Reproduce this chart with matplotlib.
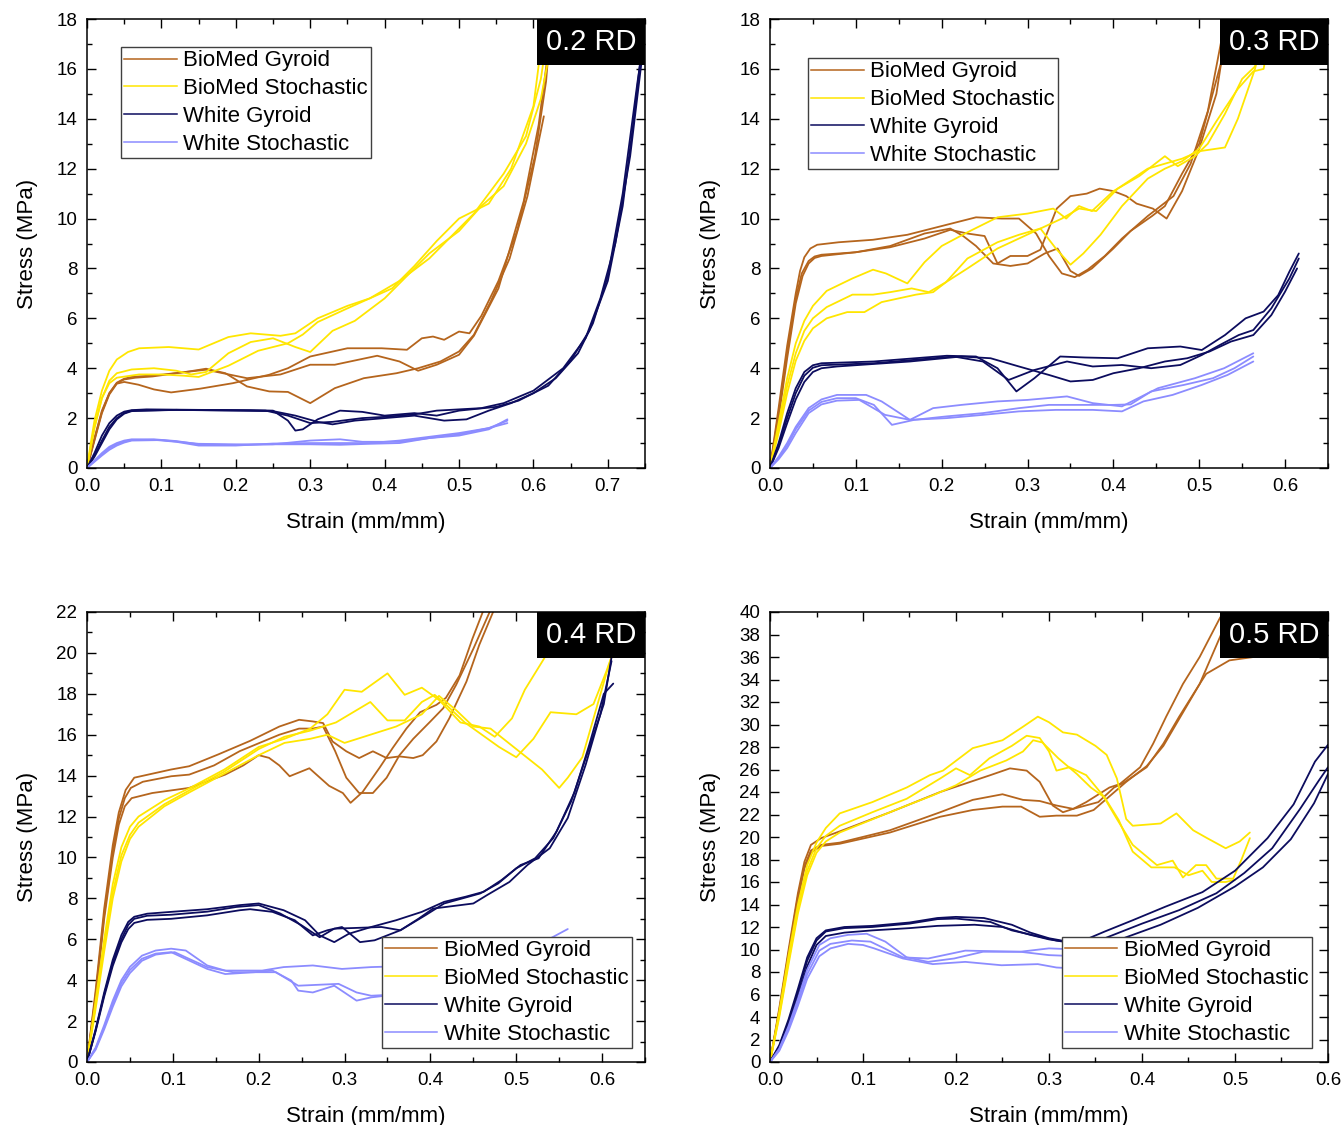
import numpy as np
import matplotlib
matplotlib.use("Agg")
import matplotlib.pyplot as plt
from matplotlib.lines import Line2D
from matplotlib.patches import Rectangle
from matplotlib.ticker import MultipleLocator, FormatStrFormatter

plt.rcParams['font.family'] = ['Liberation Sans', 'DejaVu Sans']

# ---- colours / labels
labels = ['BioMed Gyroid', 'BioMed Stochastic', 'White Gyroid', 'White Stochastic']
colors = ['#B5651D', '#FFE600', '#0C0C5E', '#8C8CFF']

# ---- 0.2 RD  (strain, stress) points
rd02_bg = [
    [[0,0],[0.01,1.2],[0.02,2.3],[0.03,3.0],[0.04,3.42],[0.05,3.58],[0.06,3.65],[0.10,3.74],[0.16,3.94],[0.215,3.6],[0.26,3.75],[0.30,4.14],[0.333,4.14],[0.39,4.5],[0.42,4.27],[0.445,3.9],[0.47,4.14],[0.50,4.54],[0.52,5.3],[0.553,7.2],[0.587,10.7],[0.607,13.75],[0.619,16.5],[0.624,18]],
    [[0,0],[0.01,1.1],[0.02,2.2],[0.03,2.95],[0.04,3.38],[0.05,3.45],[0.069,3.34],[0.09,3.15],[0.113,3.03],[0.152,3.18],[0.196,3.4],[0.245,3.74],[0.27,4.0],[0.30,4.47],[0.35,4.8],[0.396,4.8],[0.43,4.74],[0.45,5.2],[0.465,5.27],[0.48,5.14],[0.50,5.47],[0.514,5.4],[0.53,6.1],[0.553,7.5],[0.578,9.5],[0.602,12.5],[0.617,15.5],[0.624,18]],
    [[0,0],[0.01,1.15],[0.02,2.25],[0.03,3.0],[0.04,3.4],[0.05,3.55],[0.065,3.62],[0.088,3.67],[0.137,3.87],[0.16,3.98],[0.186,3.8],[0.215,3.27],[0.245,3.07],[0.27,3.05],[0.30,2.6],[0.333,3.2],[0.372,3.6],[0.416,3.8],[0.445,4.0],[0.475,4.27],[0.50,4.67],[0.52,5.34],[0.543,6.7],[0.568,8.4],[0.592,10.9],[0.614,14.1]],
]
rd02_bs = [
    [[0,0],[0.005,1.0],[0.01,1.9],[0.02,3.1],[0.03,3.9],[0.04,4.35],[0.055,4.65],[0.07,4.8],[0.11,4.85],[0.15,4.75],[0.19,5.25],[0.22,5.4],[0.26,5.3],[0.28,5.4],[0.31,6.0],[0.35,6.5],[0.38,6.8],[0.42,7.5],[0.46,8.4],[0.49,9.3],[0.52,10.2],[0.56,11.8],[0.59,13.3],[0.61,15.6],[0.622,18]],
    [[0,0],[0.005,0.8],[0.01,1.6],[0.02,2.8],[0.03,3.5],[0.04,3.8],[0.06,3.95],[0.09,4.0],[0.12,3.9],[0.14,3.75],[0.16,3.85],[0.19,4.6],[0.22,5.05],[0.25,5.2],[0.28,4.85],[0.30,4.65],[0.33,5.5],[0.36,5.9],[0.40,6.8],[0.43,7.7],[0.46,8.6],[0.50,9.5],[0.53,10.5],[0.56,11.3],[0.59,13.0],[0.61,14.8],[0.63,18]],
    [[0,0],[0.005,0.85],[0.01,1.65],[0.02,2.8],[0.03,3.4],[0.04,3.62],[0.07,3.75],[0.10,3.75],[0.13,3.7],[0.15,3.65],[0.19,4.1],[0.23,4.7],[0.27,5.0],[0.29,5.35],[0.31,5.85],[0.35,6.4],[0.38,6.8],[0.41,7.2],[0.44,8.1],[0.47,9.1],[0.50,10.0],[0.54,10.6],[0.57,12.0],[0.60,14.5],[0.615,18]],
]
rd02_wg = [
    [[0,0],[0.01,0.6],[0.02,1.3],[0.03,1.8],[0.04,2.1],[0.05,2.26],[0.06,2.32],[0.08,2.35],[0.15,2.33],[0.22,2.32],[0.25,2.3],[0.27,1.9],[0.28,1.5],[0.29,1.55],[0.31,1.95],[0.34,2.3],[0.37,2.25],[0.40,2.1],[0.44,2.2],[0.47,2.1],[0.50,2.3],[0.55,2.45],[0.58,2.7],[0.62,3.3],[0.65,4.3],[0.675,5.5],[0.70,7.5],[0.72,10.5],[0.735,14.0],[0.745,16.7]],
    [[0,0],[0.01,0.5],[0.02,1.1],[0.03,1.65],[0.04,2.0],[0.05,2.2],[0.06,2.3],[0.12,2.33],[0.2,2.3],[0.25,2.28],[0.28,2.1],[0.31,1.85],[0.33,1.75],[0.36,1.9],[0.40,2.0],[0.44,2.1],[0.48,1.9],[0.51,1.95],[0.54,2.3],[0.57,2.6],[0.60,3.0],[0.63,3.6],[0.66,4.6],[0.68,5.8],[0.70,7.7],[0.72,11.0],[0.74,15.5],[0.745,16.5]],
    [[0,0],[0.01,0.45],[0.02,1.0],[0.03,1.55],[0.04,1.95],[0.05,2.18],[0.06,2.28],[0.12,2.33],[0.24,2.3],[0.27,2.1],[0.30,1.8],[0.33,1.85],[0.37,2.0],[0.40,2.05],[0.44,2.15],[0.47,2.3],[0.50,2.35],[0.53,2.4],[0.56,2.6],[0.60,3.1],[0.64,4.0],[0.67,5.2],[0.69,6.8],[0.71,9.0],[0.73,12.5],[0.745,16.2]],
]
rd02_ws = [
    [[0,0],[0.01,0.3],[0.02,0.6],[0.03,0.85],[0.04,1.0],[0.05,1.1],[0.06,1.15],[0.09,1.15],[0.12,1.08],[0.15,0.95],[0.2,0.92],[0.25,0.95],[0.3,1.1],[0.34,1.15],[0.37,1.05],[0.42,1.05],[0.46,1.2],[0.5,1.35],[0.54,1.6],[0.565,1.9]],
    [[0,0],[0.01,0.28],[0.02,0.55],[0.03,0.8],[0.04,0.95],[0.05,1.06],[0.06,1.12],[0.09,1.13],[0.12,1.05],[0.15,0.9],[0.2,0.9],[0.25,0.98],[0.3,1.0],[0.34,1.0],[0.38,1.0],[0.42,1.1],[0.46,1.25],[0.5,1.4],[0.54,1.6],[0.565,1.8]],
    [[0,0],[0.01,0.25],[0.02,0.5],[0.03,0.73],[0.04,0.9],[0.05,1.02],[0.06,1.1],[0.1,1.12],[0.15,0.97],[0.2,0.95],[0.25,0.95],[0.3,0.95],[0.34,0.93],[0.38,0.97],[0.42,1.0],[0.46,1.2],[0.5,1.3],[0.54,1.55],[0.565,1.95]],
]

# ---- 0.3 RD
rd03_bg = [
    [[0,0],[0.01,2.4],[0.02,4.9],[0.03,7.0],[0.035,7.9],[0.04,8.45],[0.047,8.8],[0.055,8.95],[0.08,9.05],[0.12,9.15],[0.16,9.35],[0.20,9.7],[0.24,10.05],[0.27,10.0],[0.29,10.0],[0.31,9.4],[0.325,8.5],[0.34,7.8],[0.355,7.65],[0.37,7.95],[0.39,8.5],[0.41,9.2],[0.44,10.1],[0.47,10.9],[0.49,12.2],[0.51,14.3],[0.53,17.9]],
    [[0,0],[0.01,2.2],[0.02,4.6],[0.03,6.8],[0.037,7.8],[0.045,8.3],[0.052,8.48],[0.06,8.55],[0.10,8.65],[0.14,8.85],[0.18,9.2],[0.21,9.55],[0.23,9.4],[0.25,9.3],[0.265,8.2],[0.28,8.5],[0.30,8.5],[0.315,8.75],[0.334,10.4],[0.35,10.9],[0.369,11.0],[0.384,11.2],[0.40,11.1],[0.415,10.9],[0.427,10.6],[0.446,10.4],[0.462,10.0],[0.48,11.1],[0.50,12.8],[0.52,15.0],[0.533,17.9]],
    [[0,0],[0.01,2.0],[0.02,4.4],[0.03,6.6],[0.038,7.7],[0.045,8.2],[0.052,8.42],[0.06,8.5],[0.10,8.65],[0.14,8.9],[0.18,9.4],[0.21,9.6],[0.225,9.3],[0.24,8.9],[0.26,8.2],[0.28,8.1],[0.30,8.2],[0.32,8.6],[0.335,8.8],[0.35,7.9],[0.36,7.7],[0.375,8.0],[0.40,8.8],[0.42,9.5],[0.445,10.1],[0.46,10.5],[0.48,11.8],[0.50,13.0],[0.525,16.2],[0.535,17.9]],
]
rd03_bs = [
    [[0,0],[0.01,1.8],[0.02,3.6],[0.03,5.0],[0.04,5.9],[0.05,6.5],[0.066,7.1],[0.096,7.6],[0.12,7.95],[0.135,7.8],[0.16,7.4],[0.18,8.25],[0.20,8.9],[0.23,9.45],[0.265,10.05],[0.30,10.2],[0.33,10.4],[0.345,10.0],[0.36,10.5],[0.375,10.3],[0.40,11.1],[0.43,11.7],[0.46,12.5],[0.475,12.1],[0.495,12.5],[0.51,13.0],[0.53,14.2],[0.55,15.6],[0.565,16.1],[0.575,17.9]],
    [[0,0],[0.01,1.6],[0.02,3.3],[0.03,4.6],[0.04,5.5],[0.05,6.0],[0.066,6.45],[0.096,6.95],[0.12,6.95],[0.14,7.05],[0.165,7.2],[0.185,7.05],[0.205,7.45],[0.23,8.4],[0.265,9.05],[0.29,9.35],[0.315,9.6],[0.333,8.8],[0.35,8.15],[0.365,8.6],[0.385,9.35],[0.41,10.5],[0.44,11.6],[0.46,12.0],[0.48,12.3],[0.50,12.8],[0.52,13.9],[0.545,15.2],[0.563,15.9],[0.575,16.0],[0.585,17.9]],
    [[0,0],[0.01,1.4],[0.02,3.0],[0.03,4.3],[0.04,5.1],[0.05,5.6],[0.066,6.0],[0.09,6.25],[0.11,6.25],[0.13,6.65],[0.15,6.8],[0.17,6.95],[0.19,7.05],[0.205,7.45],[0.23,8.0],[0.265,8.8],[0.29,9.2],[0.315,9.6],[0.34,10.0],[0.36,10.4],[0.38,10.3],[0.405,11.2],[0.44,12.0],[0.48,12.4],[0.50,12.7],[0.53,12.85],[0.545,14.0],[0.565,16.0],[0.578,17.9]],
]
rd03_wg = [
    [[0,0],[0.01,1.0],[0.02,2.2],[0.03,3.2],[0.04,3.85],[0.05,4.12],[0.06,4.2],[0.121,4.27],[0.206,4.5],[0.24,4.47],[0.265,4.0],[0.287,3.07],[0.308,3.6],[0.338,4.47],[0.367,4.43],[0.405,4.4],[0.44,4.8],[0.478,4.87],[0.503,4.73],[0.53,5.33],[0.554,6.0],[0.575,6.27],[0.592,6.93],[0.605,7.87],[0.616,8.6]],
    [[0,0],[0.01,0.9],[0.02,2.0],[0.03,3.0],[0.04,3.7],[0.05,4.02],[0.06,4.12],[0.121,4.2],[0.214,4.47],[0.248,4.27],[0.278,3.53],[0.308,3.93],[0.346,4.27],[0.376,4.07],[0.41,4.13],[0.444,4.0],[0.478,4.13],[0.503,4.53],[0.524,4.93],[0.546,5.33],[0.563,5.53],[0.584,6.4],[0.605,7.6],[0.616,8.4]],
    [[0,0],[0.01,0.8],[0.02,1.8],[0.03,2.75],[0.04,3.45],[0.05,3.85],[0.06,4.0],[0.078,4.07],[0.163,4.27],[0.223,4.47],[0.257,4.4],[0.29,4.07],[0.325,3.73],[0.35,3.47],[0.376,3.53],[0.40,3.8],[0.43,4.0],[0.46,4.27],[0.486,4.4],[0.512,4.67],[0.537,5.07],[0.563,5.33],[0.584,6.13],[0.60,7.07],[0.614,8.0]],
]
rd03_ws = [
    [[0,0],[0.01,0.45],[0.02,1.0],[0.03,1.65],[0.045,2.4],[0.06,2.75],[0.078,2.93],[0.112,2.93],[0.13,2.67],[0.163,1.93],[0.19,2.4],[0.223,2.53],[0.265,2.67],[0.30,2.73],[0.346,2.87],[0.376,2.6],[0.41,2.47],[0.452,3.2],[0.495,3.6],[0.529,4.0],[0.563,4.6]],
    [[0,0],[0.01,0.4],[0.02,0.9],[0.03,1.55],[0.045,2.3],[0.06,2.65],[0.078,2.8],[0.10,2.8],[0.121,2.53],[0.142,1.73],[0.168,1.93],[0.206,2.07],[0.248,2.2],[0.29,2.4],[0.325,2.53],[0.40,2.53],[0.42,2.55],[0.444,3.07],[0.482,3.33],[0.516,3.6],[0.541,4.0],[0.563,4.47]],
    [[0,0],[0.01,0.35],[0.02,0.8],[0.03,1.4],[0.045,2.2],[0.06,2.55],[0.078,2.7],[0.104,2.73],[0.134,2.13],[0.163,1.93],[0.206,2.0],[0.248,2.13],[0.29,2.27],[0.333,2.33],[0.376,2.33],[0.41,2.27],[0.435,2.67],[0.469,2.93],[0.503,3.33],[0.533,3.73],[0.563,4.27]],
]

# ---- 0.4 RD
rd04_bg = [
    [[0,0],[0.01,3.5],[0.02,7.5],[0.03,10.6],[0.037,12.2],[0.045,13.3],[0.055,13.9],[0.098,14.3],[0.119,14.46],[0.153,15.04],[0.19,15.7],[0.224,16.4],[0.247,16.73],[0.263,16.65],[0.275,16.57],[0.286,15.67],[0.302,15.19],[0.317,14.86],[0.333,15.19],[0.349,14.86],[0.364,14.94],[0.38,14.86],[0.391,15.0],[0.407,15.67],[0.422,16.8],[0.442,18.6],[0.457,20.4],[0.473,22]],
    [[0,0],[0.01,3.3],[0.02,7.2],[0.03,10.3],[0.037,11.9],[0.044,12.9],[0.051,13.4],[0.065,13.7],[0.098,13.97],[0.119,14.05],[0.148,14.5],[0.178,15.2],[0.224,16.0],[0.247,16.3],[0.263,16.3],[0.275,16.4],[0.289,15.2],[0.302,13.9],[0.317,13.15],[0.333,13.15],[0.349,13.9],[0.364,15.0],[0.38,15.8],[0.40,16.65],[0.415,17.3],[0.43,18.44],[0.45,20.2],[0.469,22]],
    [[0,0],[0.01,3.1],[0.02,7.0],[0.03,10.0],[0.037,11.6],[0.044,12.5],[0.052,12.9],[0.076,13.15],[0.119,13.4],[0.161,14.05],[0.182,14.5],[0.20,15.0],[0.212,14.87],[0.224,14.5],[0.236,13.97],[0.259,14.36],[0.282,13.5],[0.298,13.15],[0.307,12.67],[0.321,13.2],[0.341,14.4],[0.356,15.35],[0.372,16.3],[0.388,17.1],[0.407,17.46],[0.418,17.8],[0.434,18.9],[0.449,20.7],[0.461,22]],
]
rd04_bs = [
    [[0,0],[0.01,3.0],[0.02,6.0],[0.03,8.7],[0.04,10.5],[0.05,11.5],[0.06,12.0],[0.09,12.8],[0.12,13.4],[0.16,14.3],[0.20,15.4],[0.23,15.8],[0.26,16.3],[0.28,17.0],[0.30,18.2],[0.32,18.1],[0.35,19.0],[0.37,17.95],[0.39,18.3],[0.41,17.7],[0.435,16.6],[0.457,16.4],[0.475,15.9],[0.495,16.8],[0.51,18.2],[0.535,19.9],[0.55,22.0]],
    [[0,0],[0.01,2.8],[0.02,5.7],[0.03,8.3],[0.04,10.1],[0.05,11.1],[0.06,11.7],[0.09,12.6],[0.12,13.3],[0.16,14.2],[0.20,15.3],[0.23,15.9],[0.26,16.2],[0.29,16.6],[0.33,17.6],[0.35,16.7],[0.37,16.7],[0.39,17.6],[0.405,17.95],[0.42,17.4],[0.44,16.6],[0.46,16.0],[0.48,15.4],[0.50,14.9],[0.52,15.8],[0.54,17.1],[0.57,17.0],[0.59,17.5],[0.605,19.1],[0.615,20.3]],
    [[0,0],[0.01,2.6],[0.02,5.4],[0.03,8.0],[0.04,9.8],[0.05,10.9],[0.06,11.5],[0.09,12.5],[0.12,13.2],[0.16,14.1],[0.20,15.0],[0.23,15.6],[0.26,15.8],[0.28,16.0],[0.30,15.6],[0.33,16.0],[0.36,16.4],[0.39,17.0],[0.41,17.9],[0.43,17.2],[0.45,16.4],[0.47,16.3],[0.50,15.3],[0.53,14.3],[0.55,13.4],[0.56,13.9],[0.577,14.9],[0.59,16.8],[0.605,19.0],[0.615,20.3]],
]
rd04_wg = [
    [[0,0],[0.01,1.6],[0.02,3.4],[0.03,5.0],[0.04,6.2],[0.048,6.85],[0.055,7.1],[0.07,7.25],[0.098,7.34],[0.14,7.47],[0.178,7.67],[0.20,7.75],[0.229,7.42],[0.254,6.93],[0.271,6.19],[0.288,5.86],[0.305,6.27],[0.331,6.6],[0.36,6.93],[0.39,7.34],[0.416,7.83],[0.441,8.08],[0.462,8.32],[0.483,8.9],[0.505,9.63],[0.526,9.96],[0.547,11.27],[0.568,13.2],[0.585,15.5],[0.602,18.0],[0.613,18.5]],
    [[0,0],[0.01,1.5],[0.02,3.2],[0.03,4.7],[0.04,5.85],[0.048,6.5],[0.055,6.8],[0.07,6.95],[0.098,7.0],[0.14,7.17],[0.178,7.42],[0.19,7.47],[0.216,7.34],[0.242,6.93],[0.263,6.19],[0.28,6.44],[0.297,6.6],[0.318,5.86],[0.335,5.95],[0.365,6.44],[0.394,7.17],[0.416,7.75],[0.458,8.24],[0.479,8.73],[0.50,9.47],[0.522,9.96],[0.543,10.94],[0.564,12.74],[0.585,15.36],[0.602,17.5],[0.611,19.8]],
    [[0,0],[0.01,1.55],[0.02,3.3],[0.03,4.85],[0.04,6.0],[0.048,6.7],[0.055,7.0],[0.07,7.15],[0.098,7.2],[0.14,7.35],[0.174,7.58],[0.20,7.67],[0.225,7.26],[0.25,6.68],[0.271,6.1],[0.288,6.52],[0.31,6.55],[0.343,6.6],[0.365,6.44],[0.386,7.0],[0.403,7.5],[0.45,7.75],[0.466,8.16],[0.492,8.8],[0.513,9.63],[0.539,10.45],[0.56,11.93],[0.581,14.55],[0.598,17.0],[0.611,19.6]],
]
rd04_ws = [
    [[0,0],[0.01,0.7],[0.02,1.8],[0.03,3.0],[0.04,4.0],[0.05,4.65],[0.064,5.2],[0.08,5.45],[0.098,5.54],[0.115,5.45],[0.14,4.72],[0.161,4.47],[0.204,4.47],[0.229,4.64],[0.263,4.72],[0.297,4.55],[0.331,4.64],[0.38,4.7],[0.45,5.0],[0.52,5.6],[0.56,6.5]],
    [[0,0],[0.01,0.65],[0.02,1.7],[0.03,2.85],[0.04,3.85],[0.05,4.5],[0.064,5.05],[0.08,5.3],[0.098,5.37],[0.14,4.55],[0.161,4.3],[0.195,4.39],[0.216,4.47],[0.238,3.98],[0.246,3.49],[0.263,3.4],[0.288,3.73],[0.314,3.0],[0.331,3.16],[0.36,3.3]],
    [[0,0],[0.01,0.6],[0.02,1.6],[0.03,2.7],[0.04,3.7],[0.05,4.35],[0.064,4.95],[0.08,5.25],[0.102,5.37],[0.119,5.04],[0.14,4.64],[0.17,4.39],[0.22,4.39],[0.246,3.73],[0.293,3.82],[0.314,3.4],[0.331,3.24],[0.36,3.3]],
]

# ---- 0.5 RD
rd05_bg = [
    [[0,0],[0.01,4.8],[0.02,10.0],[0.03,15.0],[0.037,17.8],[0.044,19.3],[0.055,19.9],[0.075,20.5],[0.129,22.2],[0.183,24.0],[0.237,25.5],[0.258,26.1],[0.276,25.9],[0.29,24.9],[0.304,22.8],[0.315,22.2],[0.326,22.5],[0.34,23.1],[0.365,24.4],[0.376,24.7],[0.398,26.2],[0.412,28.3],[0.426,30.7],[0.444,33.6],[0.462,36.0],[0.484,39.5],[0.488,40]],
    [[0,0],[0.01,4.6],[0.02,9.7],[0.03,14.7],[0.037,17.4],[0.044,18.8],[0.055,19.3],[0.075,19.5],[0.129,20.6],[0.183,22.2],[0.218,23.3],[0.25,23.8],[0.272,23.3],[0.29,23.2],[0.308,22.8],[0.326,22.5],[0.353,23.1],[0.37,24.4],[0.38,24.8],[0.405,26.2],[0.423,28.3],[0.44,30.7],[0.462,33.6],[0.484,37.8],[0.495,40]],
    [[0,0],[0.01,4.4],[0.02,9.4],[0.03,14.4],[0.037,17.2],[0.044,18.6],[0.055,19.2],[0.075,19.4],[0.129,20.4],[0.183,21.8],[0.218,22.4],[0.25,22.7],[0.27,22.7],[0.29,21.8],[0.308,21.9],[0.33,21.9],[0.348,22.4],[0.362,23.4],[0.383,24.9],[0.405,26.3],[0.423,28.1],[0.44,30.5],[0.462,33.6],[0.469,34.5],[0.494,35.7],[0.52,36.0],[0.56,36.5]],
]
rd05_bs = [
    [[0,0],[0.01,4.5],[0.02,9.5],[0.03,14.0],[0.04,17.5],[0.05,19.5],[0.06,20.8],[0.075,22.1],[0.11,23.1],[0.147,24.4],[0.172,25.5],[0.186,25.9],[0.218,27.9],[0.25,28.6],[0.272,29.8],[0.288,30.7],[0.30,30.2],[0.315,29.3],[0.33,29.1],[0.35,28.1],[0.362,27.3],[0.373,25.2],[0.383,21.6],[0.39,21.0],[0.42,21.2],[0.437,22.1],[0.455,20.6],[0.47,19.9],[0.49,19.0],[0.505,19.6],[0.516,20.4]],
    [[0,0],[0.01,4.2],[0.02,9.0],[0.03,13.5],[0.04,17.0],[0.05,19.0],[0.06,20.1],[0.075,21.0],[0.11,22.2],[0.147,23.4],[0.183,25.2],[0.20,26.1],[0.215,25.5],[0.236,27.0],[0.26,28.1],[0.276,29.0],[0.29,28.8],[0.30,27.6],[0.308,25.9],[0.322,26.2],[0.34,25.5],[0.358,23.7],[0.373,21.6],[0.39,19.3],[0.416,17.5],[0.433,17.9],[0.444,16.4],[0.458,17.5],[0.469,17.5],[0.48,16.3],[0.498,16.3],[0.507,18.0],[0.516,19.9]],
    [[0,0],[0.01,4.0],[0.02,8.7],[0.03,13.2],[0.04,16.6],[0.05,18.6],[0.06,19.6],[0.075,20.4],[0.111,21.6],[0.147,22.8],[0.175,23.7],[0.20,24.6],[0.226,25.9],[0.254,26.8],[0.272,27.6],[0.283,28.6],[0.293,28.4],[0.31,27.0],[0.33,25.6],[0.345,24.4],[0.36,23.5],[0.375,21.5],[0.39,18.7],[0.41,17.3],[0.435,17.3],[0.45,16.6],[0.465,17.0],[0.475,16.0],[0.49,16.0],[0.50,16.2]],
]
rd05_wg = [
    [[0,0],[0.01,1.5],[0.02,3.8],[0.03,6.5],[0.04,9.3],[0.05,11.0],[0.06,11.7],[0.08,12.0],[0.11,12.1],[0.15,12.4],[0.18,12.8],[0.20,12.9],[0.23,12.8],[0.26,12.2],[0.28,11.5],[0.30,11.0],[0.32,10.7],[0.34,10.9],[0.36,11.6],[0.39,12.6],[0.425,13.8],[0.465,15.1],[0.50,17.0],[0.535,19.9],[0.563,22.9],[0.586,26.7],[0.60,28.2]],
    [[0,0],[0.01,1.4],[0.02,3.6],[0.03,6.2],[0.04,9.0],[0.05,10.8],[0.06,11.6],[0.08,11.9],[0.11,12.0],[0.15,12.3],[0.18,12.7],[0.20,12.75],[0.237,12.45],[0.26,11.7],[0.292,11.1],[0.308,10.8],[0.33,10.6],[0.36,11.0],[0.40,12.3],[0.44,13.5],[0.48,15.0],[0.51,16.8],[0.54,19.0],[0.57,22.5],[0.59,25.0],[0.60,26.2]],
    [[0,0],[0.01,1.3],[0.02,3.3],[0.03,5.8],[0.04,8.5],[0.05,10.4],[0.06,11.2],[0.08,11.5],[0.11,11.7],[0.15,11.9],[0.18,12.1],[0.22,12.2],[0.25,12.0],[0.28,11.3],[0.30,10.9],[0.33,10.5],[0.36,10.6],[0.38,11.0],[0.42,12.2],[0.46,13.7],[0.50,15.6],[0.53,17.3],[0.56,19.8],[0.585,23.0],[0.60,25.6]],
]
rd05_ws = [
    [[0,0],[0.01,1.2],[0.02,3.2],[0.03,5.6],[0.04,8.2],[0.053,10.4],[0.065,11.0],[0.084,11.3],[0.104,11.4],[0.124,10.7],[0.147,9.3],[0.17,8.9],[0.198,9.2],[0.229,9.8],[0.269,9.8],[0.30,10.1],[0.33,10.0]],
    [[0,0],[0.01,1.1],[0.02,3.0],[0.03,5.3],[0.04,7.8],[0.053,9.9],[0.065,10.5],[0.088,10.8],[0.108,10.7],[0.143,9.3],[0.17,9.2],[0.21,9.9],[0.269,9.8],[0.30,9.5],[0.33,9.4]],
    [[0,0],[0.01,1.0],[0.02,2.8],[0.03,5.0],[0.04,7.4],[0.053,9.4],[0.065,10.1],[0.084,10.5],[0.10,10.4],[0.112,10.1],[0.143,9.2],[0.175,8.7],[0.21,8.9],[0.249,8.6],[0.288,8.7],[0.308,8.4],[0.33,8.3]],
]

# panel settings: title, groups, xmax, ymax, y minor, legend placement
panels = [
    ("0.2 RD", [rd02_bg, rd02_bs, rd02_wg, rd02_ws], 0.75, 18, 1, ('upper left', (0.061, 0.9376))),
    ("0.3 RD", [rd03_bg, rd03_bs, rd03_wg, rd03_ws], 0.65, 18, 1, ('upper left', (0.068, 0.913))),
    ("0.4 RD", [rd04_bg, rd04_bs, rd04_wg, rd04_ws], 0.65, 22, 1, ('lower right', (0.977, 0.031))),
    ("0.5 RD", [rd05_bg, rd05_bs, rd05_wg, rd05_ws], 0.60, 40, None, ('lower right', (0.971, 0.031))),
]

fig = plt.figure(figsize=(13.41, 11.25), dpi=100)
positions = [
    [0.0649, 0.584, 0.4161, 0.3991],
    [0.5742, 0.584, 0.4161, 0.3991],
    [0.0649, 0.056, 0.4161, 0.400],
    [0.5742, 0.056, 0.4161, 0.400],
]

for pos, (title, groups, xmax, ymax, yminor, (loc, anchor)) in zip(positions, panels):
    ax = fig.add_axes(pos)
    for color, reps in zip(colors, groups):
        for rep in reps:
            arr = np.array(rep)
            ax.plot(arr[:, 0], arr[:, 1], color=color, lw=1.3,
                    solid_joinstyle='round', solid_capstyle='round')

    ax.set_xlim(0, xmax)
    ax.set_ylim(0, ymax)
    ax.xaxis.set_major_locator(MultipleLocator(0.1))
    ax.xaxis.set_minor_locator(MultipleLocator(0.05))
    ax.xaxis.set_major_formatter(FormatStrFormatter('%.1f'))
    ax.yaxis.set_major_locator(MultipleLocator(2))
    if yminor:
        ax.yaxis.set_minor_locator(MultipleLocator(yminor))
    ax.tick_params(which='both', direction='in', top=True, right=True, width=1.0, labelsize=13.5)
    ax.tick_params(which='major', length=6.5)
    ax.tick_params(which='minor', length=3.6)
    ax.tick_params(axis='x', pad=7.5)
    ax.tick_params(axis='y', pad=7)
    for sp in ax.spines.values():
        sp.set_linewidth(1.1)

    ax.set_xlabel('Strain (mm/mm)', fontsize=16, labelpad=12)
    ax.set_ylabel('Stress (MPa)', fontsize=16, labelpad=13)

    handles = [Line2D([], [], color=c, lw=1.1) for c in colors]
    leg = ax.legend(handles, labels, loc=loc, bbox_to_anchor=anchor, borderaxespad=0,
                    fontsize=16, frameon=True, fancybox=False, framealpha=1,
                    edgecolor='#404040', borderpad=0.15, labelspacing=0.31,
                    handlelength=2.35, handletextpad=0.3)
    leg.get_frame().set_linewidth(1.0)
    leg.set_zorder(10)

    bw, bh = 0.1935, 0.1025
    ax.add_patch(Rectangle((1 - bw, 1 - bh), bw, bh, transform=ax.transAxes,
                           facecolor='black', edgecolor='none', zorder=11))
    ax.text(1 - bw / 2, 1 - bh / 2, title, transform=ax.transAxes, color='white',
            fontsize=21, ha='center', va='center', zorder=12)

fig.savefig('out.png', dpi=100)
